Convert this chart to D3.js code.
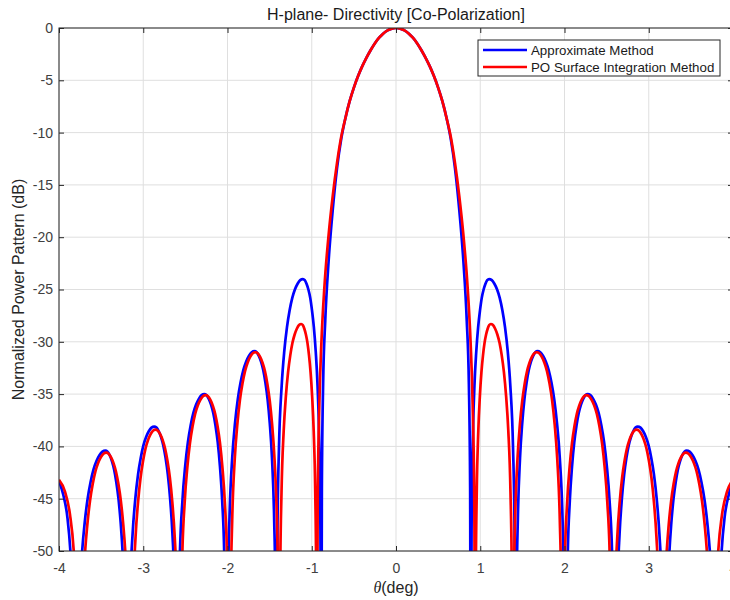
<!DOCTYPE html>
<html>
<head>
<meta charset="utf-8">
<script src="https://cdn.jsdelivr.net/npm/d3@7"></script>
<style>
  body { margin: 0; background: #fff; }
  svg { font-family: "Liberation Sans", Arial, sans-serif; }
</style>
</head>
<body>
<div id="chart"></div>
<script>
// ejes
const thetaTicks = [-4, -3, -2, -1, 0, 1, 2, 3, 4];
const dbTicks = [0, -5, -10, -15, -20, -25, -30, -35, -40, -45, -50];

const seriesNames = ["Approximate Method", "PO Surface Integration Method"];
const seriesColors = ["#0000ff", "#ff0000"];

// Approximate Method [theta(deg), dB]
const approxLeft = [
  [-4,-43.3],[-3.95,-44.6],[-3.9,-46.8],[-3.865,-50],[-3.84,-54],[-3.82,-60],[-3.8,-70],
  [-3.765,-56.5],[-3.73,-50.6],[-3.695,-47.3],[-3.66,-45.0],[-3.625,-43.4],[-3.59,-42.2],[-3.555,-41.4],[-3.52,-40.85],[-3.485,-40.5],[-3.45,-40.4],
  [-3.424,-40.5],[-3.398,-40.85],[-3.372,-41.4],[-3.346,-42.2],[-3.32,-43.4],[-3.294,-45.0],[-3.268,-47.3],[-3.242,-50.6],[-3.216,-56.5],[-3.19,-70],
  [-3.158,-54.2],[-3.126,-48.3],[-3.094,-45.0],[-3.062,-42.7],[-3.03,-41.1],[-2.998,-39.9],[-2.966,-39.1],[-2.934,-38.55],[-2.902,-38.2],[-2.87,-38.1],
  [-2.843,-38.2],[-2.816,-38.55],[-2.789,-39.1],[-2.762,-39.9],[-2.735,-41.1],[-2.708,-42.7],[-2.681,-45.0],[-2.654,-48.3],[-2.627,-54.2],[-2.6,-70],
  [-2.5675,-51.1],[-2.535,-45.2],[-2.5025,-41.9],[-2.47,-39.6],[-2.4375,-38.0],[-2.405,-36.8],[-2.3725,-36.0],[-2.34,-35.45],[-2.3075,-35.1],[-2.275,-35.0],
  [-2.2485,-35.1],[-2.222,-35.45],[-2.1955,-36.0],[-2.169,-36.8],[-2.1425,-38.0],[-2.116,-39.6],[-2.0895,-41.9],[-2.063,-45.2],[-2.0365,-51.1],[-2.01,-70],
  [-1.997,-54.9],[-1.977,-47.0],[-1.944,-41.1],[-1.911,-37.8],[-1.878,-35.5],[-1.845,-33.9],[-1.812,-32.7],[-1.779,-31.9],[-1.746,-31.35],[-1.713,-31.0],[-1.68,-30.9],
  [-1.654,-31.0],[-1.628,-31.35],[-1.602,-31.9],[-1.576,-32.7],[-1.55,-33.9],[-1.524,-35.5],[-1.498,-37.8],[-1.472,-41.1],[-1.446,-47.0],[-1.43,-54.9],[-1.42,-70],
  [-1.407,-48.0],[-1.389,-40.1],[-1.357,-34.2],[-1.326,-30.9],[-1.294,-28.6],[-1.263,-27.0],[-1.231,-25.8],[-1.2,-25.0],[-1.168,-24.45],[-1.137,-24.1],[-1.105,-24.0],
  [-1.083,-24.1],[-1.062,-24.45],[-1.04,-25.0],[-1.018,-25.8],[-0.997,-27.0],[-0.975,-28.6],[-0.953,-30.9],[-0.931,-34.2],[-0.91,-40.1],[-0.897,-48.0],[-0.888,-70],
  [-0.88,-44],[-0.865,-34],[-0.84,-28],[-0.8,-22.3],[-0.75,-17.3],[-0.7,-13.4],[-0.65,-10.6],[-0.6,-8.6],[-0.55,-7.0],[-0.5,-5.7],[-0.45,-4.6],
  [-0.4,-3.65],[-0.35,-2.83],[-0.3,-2.1],[-0.25,-1.45],[-0.2,-0.93],[-0.15,-0.52],[-0.1,-0.23],[-0.05,-0.06]
];
const approxCenter = [[0, 0]];
const approxRight = [
  [0.05,-0.06],[0.1,-0.23],[0.15,-0.52],[0.2,-0.93],[0.25,-1.45],[0.3,-2.1],[0.35,-2.83],[0.4,-3.65],
  [0.45,-4.6],[0.5,-5.7],[0.55,-7.0],[0.6,-8.6],[0.65,-10.6],[0.7,-13.4],[0.75,-17.3],[0.8,-22.3],[0.84,-28],[0.865,-34],[0.88,-44],
  [0.888,-70],[0.897,-48.0],[0.91,-40.1],[0.931,-34.2],[0.953,-30.9],[0.975,-28.6],[0.997,-27.0],[1.018,-25.8],[1.04,-25.0],[1.062,-24.45],[1.083,-24.1],
  [1.105,-24.0],[1.137,-24.1],[1.168,-24.45],[1.2,-25.0],[1.231,-25.8],[1.263,-27.0],[1.294,-28.6],[1.326,-30.9],[1.357,-34.2],[1.389,-40.1],[1.407,-48.0],
  [1.42,-70],[1.43,-54.9],[1.446,-47.0],[1.472,-41.1],[1.498,-37.8],[1.524,-35.5],[1.55,-33.9],[1.576,-32.7],[1.602,-31.9],[1.628,-31.35],[1.654,-31.0],
  [1.68,-30.9],[1.713,-31.0],[1.746,-31.35],[1.779,-31.9],[1.812,-32.7],[1.845,-33.9],[1.878,-35.5],[1.911,-37.8],[1.944,-41.1],[1.977,-47.0],[1.997,-54.9],
  [2.01,-70],[2.0365,-51.1],[2.063,-45.2],[2.0895,-41.9],[2.116,-39.6],[2.1425,-38.0],[2.169,-36.8],[2.1955,-36.0],[2.222,-35.45],[2.2485,-35.1],
  [2.275,-35.0],[2.3075,-35.1],[2.34,-35.45],[2.3725,-36.0],[2.405,-36.8],[2.4375,-38.0],[2.47,-39.6],[2.5025,-41.9],[2.535,-45.2],[2.5675,-51.1],
  [2.6,-70],[2.627,-54.2],[2.654,-48.3],[2.681,-45.0],[2.708,-42.7],[2.735,-41.1],[2.762,-39.9],[2.789,-39.1],[2.816,-38.55],[2.843,-38.2],
  [2.87,-38.1],[2.902,-38.2],[2.934,-38.55],[2.966,-39.1],[2.998,-39.9],[3.03,-41.1],[3.062,-42.7],[3.094,-45.0],[3.126,-48.3],[3.158,-54.2],
  [3.19,-70],[3.216,-56.5],[3.242,-50.6],[3.268,-47.3],[3.294,-45.0],[3.32,-43.4],[3.346,-42.2],[3.372,-41.4],[3.398,-40.85],[3.424,-40.5],
  [3.45,-40.4],[3.485,-40.5],[3.52,-40.85],[3.555,-41.4],[3.59,-42.2],[3.625,-43.4],[3.66,-45.0],[3.695,-47.3],[3.73,-50.6],[3.765,-56.5],
  [3.8,-70],[3.82,-60],[3.84,-54],[3.865,-50],[3.9,-46.8],[3.95,-44.6],[4,-43.3]
];

// PO Surface Integration Method [theta(deg), dB]
const poLeft = [
  [-4,-43.2],[-3.93,-44.3],[-3.87,-46.5],[-3.825,-50],[-3.8,-54],[-3.78,-60],[-3.76,-70],
  [-3.728,-56.7],[-3.696,-50.8],[-3.664,-47.5],[-3.632,-45.2],[-3.6,-43.6],[-3.568,-42.4],[-3.536,-41.6],[-3.504,-41.05],[-3.472,-40.7],[-3.44,-40.6],
  [-3.411,-40.7],[-3.382,-41.05],[-3.353,-41.6],[-3.324,-42.4],[-3.295,-43.6],[-3.266,-45.2],[-3.237,-47.5],[-3.208,-50.8],[-3.179,-56.7],[-3.15,-70],
  [-3.1205,-54.5],[-3.091,-48.6],[-3.0615,-45.3],[-3.032,-43.0],[-3.0025,-41.4],[-2.973,-40.2],[-2.9435,-39.4],[-2.914,-38.85],[-2.8845,-38.5],[-2.855,-38.4],
  [-2.8265,-38.5],[-2.798,-38.85],[-2.7695,-39.4],[-2.741,-40.2],[-2.7125,-41.4],[-2.684,-43.0],[-2.6555,-45.3],[-2.627,-48.6],[-2.5985,-54.5],[-2.57,-70],
  [-2.539,-51.2],[-2.508,-45.3],[-2.477,-42.0],[-2.446,-39.7],[-2.415,-38.1],[-2.384,-36.9],[-2.353,-36.1],[-2.322,-35.55],[-2.291,-35.2],[-2.26,-35.1],
  [-2.2315,-35.2],[-2.203,-35.55],[-2.1745,-36.1],[-2.146,-36.9],[-2.1175,-38.1],[-2.089,-39.7],[-2.0605,-42.0],[-2.032,-45.3],[-2.0035,-51.2],[-1.975,-70],
  [-1.9628,-55.0],[-1.9445,-47.1],[-1.914,-41.2],[-1.8835,-37.9],[-1.853,-35.6],[-1.8225,-34.0],[-1.792,-32.8],[-1.7615,-32.0],[-1.731,-31.45],[-1.7005,-31.1],[-1.67,-31.0],
  [-1.6415,-31.1],[-1.613,-31.45],[-1.5845,-32.0],[-1.556,-32.8],[-1.5275,-34.0],[-1.499,-35.6],[-1.4705,-37.9],[-1.442,-41.2],[-1.4135,-47.1],[-1.3964,-55.0],[-1.385,-70],
  [-1.3746,-52.3],[-1.359,-44.4],[-1.333,-38.5],[-1.307,-35.2],[-1.281,-32.9],[-1.255,-31.3],[-1.229,-30.1],[-1.203,-29.3],[-1.177,-28.75],[-1.151,-28.4],[-1.125,-28.3],
  [-1.1065,-28.4],[-1.088,-28.75],[-1.0695,-29.3],[-1.051,-30.1],[-1.0325,-31.3],[-1.014,-32.9],[-0.9955,-35.2],[-0.977,-38.5],[-0.9585,-44.4],[-0.9474,-52.3],[-0.94,-70],
  [-0.93,-46],[-0.91,-36],[-0.885,-30],[-0.85,-24.8],[-0.8,-19.8],[-0.75,-16.0],[-0.7,-12.9],[-0.65,-10.4],[-0.6,-8.6],[-0.55,-7.0],[-0.5,-5.7],[-0.45,-4.6],
  [-0.4,-3.65],[-0.35,-2.83],[-0.3,-2.1],[-0.25,-1.45],[-0.2,-0.93],[-0.15,-0.52],[-0.1,-0.23],[-0.05,-0.06]
];
const poCenter = [[0, 0]];
const poRight = [
  [0.05,-0.06],[0.1,-0.23],[0.15,-0.52],[0.2,-0.93],[0.25,-1.45],[0.3,-2.1],[0.35,-2.83],[0.4,-3.65],[0.45,-4.6],[0.5,-5.7],
  [0.55,-7.0],[0.6,-8.6],[0.65,-10.4],[0.7,-12.9],[0.75,-16.0],[0.8,-19.8],[0.85,-24.8],[0.885,-30],[0.91,-36],[0.93,-46],
  [0.94,-70],[0.9474,-52.3],[0.9585,-44.4],[0.977,-38.5],[0.9955,-35.2],[1.014,-32.9],[1.0325,-31.3],[1.051,-30.1],[1.0695,-29.3],[1.088,-28.75],[1.1065,-28.4],
  [1.125,-28.3],[1.151,-28.4],[1.177,-28.75],[1.203,-29.3],[1.229,-30.1],[1.255,-31.3],[1.281,-32.9],[1.307,-35.2],[1.333,-38.5],[1.359,-44.4],[1.3746,-52.3],
  [1.385,-70],[1.3964,-55.0],[1.4135,-47.1],[1.442,-41.2],[1.4705,-37.9],[1.499,-35.6],[1.5275,-34.0],[1.556,-32.8],[1.5845,-32.0],[1.613,-31.45],[1.6415,-31.1],
  [1.67,-31.0],[1.7005,-31.1],[1.731,-31.45],[1.7615,-32.0],[1.792,-32.8],[1.8225,-34.0],[1.853,-35.6],[1.8835,-37.9],[1.914,-41.2],[1.9445,-47.1],[1.9628,-55.0],
  [1.975,-70],[2.0035,-51.2],[2.032,-45.3],[2.0605,-42.0],[2.089,-39.7],[2.1175,-38.1],[2.146,-36.9],[2.1745,-36.1],[2.203,-35.55],[2.2315,-35.2],
  [2.26,-35.1],[2.291,-35.2],[2.322,-35.55],[2.353,-36.1],[2.384,-36.9],[2.415,-38.1],[2.446,-39.7],[2.477,-42.0],[2.508,-45.3],[2.539,-51.2],
  [2.57,-70],[2.5985,-54.5],[2.627,-48.6],[2.6555,-45.3],[2.684,-43.0],[2.7125,-41.4],[2.741,-40.2],[2.7695,-39.4],[2.798,-38.85],[2.8265,-38.5],
  [2.855,-38.4],[2.8845,-38.5],[2.914,-38.85],[2.9435,-39.4],[2.973,-40.2],[3.0025,-41.4],[3.032,-43.0],[3.0615,-45.3],[3.091,-48.6],[3.1205,-54.5],
  [3.15,-70],[3.179,-56.7],[3.208,-50.8],[3.237,-47.5],[3.266,-45.2],[3.295,-43.6],[3.324,-42.4],[3.353,-41.6],[3.382,-41.05],[3.411,-40.7],
  [3.44,-40.6],[3.472,-40.7],[3.504,-41.05],[3.536,-41.6],[3.568,-42.4],[3.6,-43.6],[3.632,-45.2],[3.664,-47.5],[3.696,-50.8],[3.728,-56.7],
  [3.76,-70],[3.78,-60],[3.8,-54],[3.825,-50],[3.87,-46.5],[3.93,-44.3],[4,-43.2]
];

const series = [
  approxLeft.concat(approxCenter, approxRight),
  poLeft.concat(poCenter, poRight)
];

const W = 730, H = 600;
const margin = {top: 28, right: -3, bottom: 49, left: 59};
const width = W - margin.left - margin.right,
      height = H - margin.top - margin.bottom;

const svg = d3.select("#chart").append("svg")
    .attr("width", W)
    .attr("height", H);

const g = svg.append("g")
    .attr("transform", `translate(${margin.left}, ${margin.top})`);

const x = d3.scaleLinear().domain([-4, 4]).range([0, width]);
const y = d3.scaleLinear().domain([-50, 0]).range([height, 0]);

// grid
g.append("g")
    .selectAll("line")
    .data(thetaTicks)
    .join("line")
    .attr("x1", d => x(d)).attr("x2", d => x(d))
    .attr("y1", 0).attr("y2", height)
    .attr("stroke", "#dfdfdf").attr("stroke-width", 1);

g.append("g")
    .selectAll("line")
    .data(dbTicks)
    .join("line")
    .attr("x1", 0).attr("x2", width)
    .attr("y1", d => y(d)).attr("y2", d => y(d))
    .attr("stroke", "#dfdfdf").attr("stroke-width", 1);

// curvas
svg.append("defs").append("clipPath").attr("id", "clip")
    .append("rect").attr("x", 0).attr("y", 0).attr("width", width).attr("height", height);

const line = d3.line()
    .x(d => x(d[0]))
    .y(d => y(d[1]))
    .curve(d3.curveMonotoneX);

g.append("g")
    .attr("clip-path", "url(#clip)")
    .selectAll("path")
    .data(series)
    .join("path")
    .attr("d", line)
    .attr("fill", "none")
    .attr("stroke", (d, i) => seriesColors[i])
    .attr("stroke-width", 2.7)
    .attr("stroke-linejoin", "round");

// ejes (estilo matlab, ticks hacia dentro)
const axisColor = "#262626";
const fmt = d => String(d);
const tickStyle = sel => {
    sel.select(".domain").remove();
    sel.selectAll(".tick line").attr("stroke", axisColor);
    sel.selectAll(".tick text")
        .attr("fill", "#404040")
        .style("font-size", "14px");
};

g.append("g")
    .attr("transform", `translate(0, ${height})`)
    .call(d3.axisBottom(x).tickValues(thetaTicks).tickSize(-5).tickPadding(12).tickFormat(fmt))
    .call(tickStyle);

g.append("g")
    .call(d3.axisTop(x).tickValues(thetaTicks).tickSize(-5).tickFormat(""))
    .call(tickStyle);

g.append("g")
    .call(d3.axisLeft(y).tickValues(dbTicks).tickSize(-5).tickPadding(6).tickFormat(fmt))
    .call(tickStyle);

g.append("g")
    .attr("transform", `translate(${width}, 0)`)
    .call(d3.axisRight(y).tickValues(dbTicks).tickSize(-5).tickFormat(""))
    .call(tickStyle);

g.append("rect")
    .attr("x", 0).attr("y", 0)
    .attr("width", width).attr("height", height)
    .attr("fill", "none")
    .attr("stroke", axisColor)
    .attr("stroke-width", 1);

// titulos
svg.append("text")
    .attr("x", margin.left + x(0))
    .attr("y", 20)
    .attr("text-anchor", "middle")
    .style("font-size", "16px")
    .attr("fill", "#1a1a1a")
    .text("H-plane- Directivity [Co-Polarization]");

const xl = svg.append("text")
    .attr("x", margin.left + x(0))
    .attr("y", 593)
    .attr("text-anchor", "middle")
    .style("font-size", "16px")
    .attr("fill", "#262626");
xl.append("tspan").style("font-style", "italic").style("font-family", "'Liberation Serif', serif").text("θ");
xl.append("tspan").text("(deg)");

svg.append("text")
    .attr("transform", `translate(24, ${margin.top + height / 2}) rotate(-90)`)
    .attr("text-anchor", "middle")
    .style("font-size", "16px")
    .attr("fill", "#262626")
    .text("Normalized Power Pattern (dB)");

// leyenda
const legend = svg.append("g").attr("transform", "translate(478, 40)");
legend.append("rect")
    .attr("width", 242).attr("height", 36)
    .attr("fill", "#fff")
    .attr("stroke", axisColor).attr("stroke-width", 1);

seriesNames.forEach((name, i) => {
    const ly = 10 + i * 17;
    legend.append("line")
        .attr("x1", 5).attr("x2", 49)
        .attr("y1", ly).attr("y2", ly)
        .attr("stroke", seriesColors[i])
        .attr("stroke-width", 2.7);
    legend.append("text")
        .attr("x", 53).attr("y", ly + 5)
        .style("font-size", "13.3px")
        .attr("fill", "#1a1a1a")
        .text(name);
});
</script>
</body>
</html>
